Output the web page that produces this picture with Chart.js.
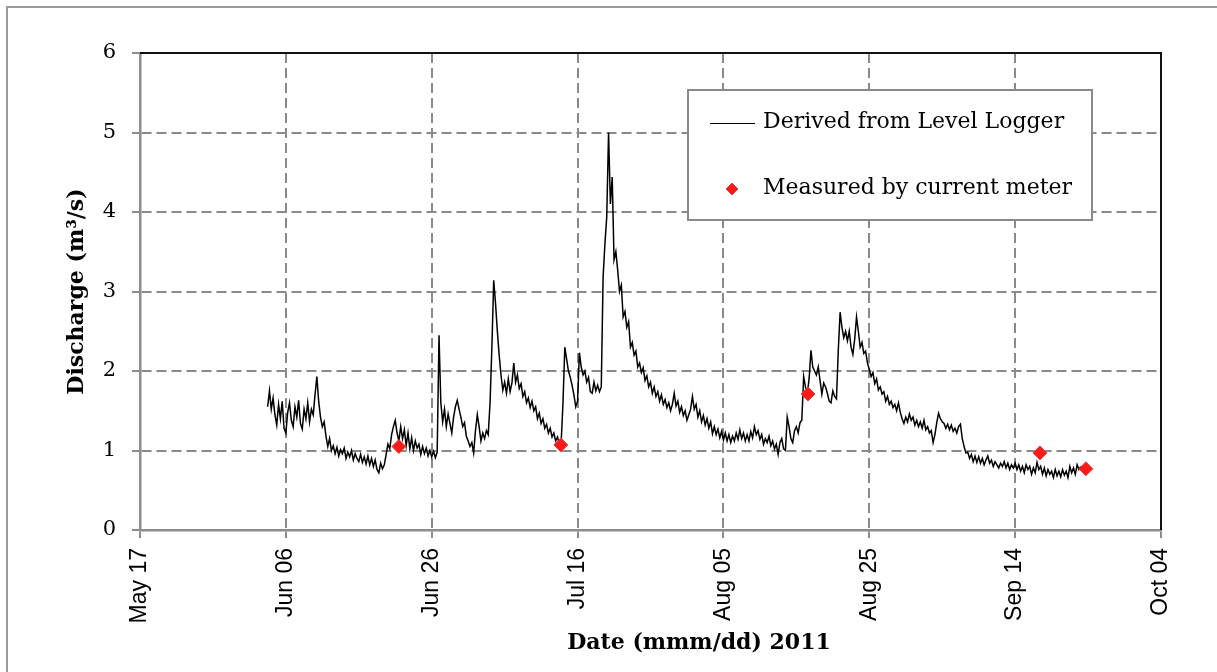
<!DOCTYPE html>
<html>
<head>
<meta charset="utf-8">
<script src="https://cdn.jsdelivr.net/npm/chart.js@4.4.0/dist/chart.umd.min.js"></script>
<style>
html,body{margin:0;padding:0;background:#fff;overflow:hidden;}
#wrap{position:relative;width:1217px;height:672px;overflow:hidden;}
#frame{position:absolute;left:6px;top:6px;width:1400px;height:900px;border-left:2px solid #9b9b9b;border-top:2px solid #9b9b9b;}
canvas{position:absolute;left:0;top:0;}
</style>
</head>
<body>
<div id="wrap"><div id="frame"></div><canvas id="c" width="1217" height="672"></canvas></div>
<script>
// ---- data (x = days after May 17, 2011) ----
const xTickDays   = [0, 20, 40, 60, 80, 100, 120, 140];
const xTickLabels = ["May 17", "Jun 06", "Jun 26", "Jul 16", "Aug 05", "Aug 25", "Sep 14", "Oct 04"];
const yTicks      = [0, 1, 2, 3, 4, 5, 6];

const xAxisTitle = "Date (mmm/dd) 2011";
const yAxisTitle = "Discharge (m\u00B3/s)";
const loggerLabel = "Derived from Level Logger";
const meterLabel  = "Measured by current meter";

// level-logger series, sampled every quarter day starting at day 17.5
const loggerStartDay = 17.5;
const loggerStepDay  = 0.25;
const loggerQ = [
  1.55, 1.75,
  1.52, 1.66, 1.45, 1.32,  1.58, 1.40, 1.62, 1.28,  1.22, 1.48, 1.60, 1.38,  1.30, 1.55, 1.42, 1.63,
  1.34, 1.27, 1.52, 1.40,  1.60, 1.36, 1.52, 1.45,  1.70, 1.93, 1.62, 1.42,  1.30, 1.36, 1.18, 1.05,
  1.15, 1.00, 1.06, 0.96,  1.04, 0.93, 1.01, 0.96,  1.03, 0.90, 0.98, 0.92,  1.00, 0.88, 0.96, 0.90,
  0.86, 0.95, 0.85, 0.92,  0.83, 0.93, 0.82, 0.90,  0.80, 0.88, 0.76, 0.72,  0.84, 0.77, 0.82, 0.95,
  1.08, 1.02, 1.20, 1.30,  1.38, 1.22, 1.12, 1.30,  1.15, 1.26, 1.06, 1.22,  1.02, 1.16, 1.00, 1.12,
  1.03, 1.08, 0.95, 1.05,  0.96, 1.03, 0.93, 1.00,  0.92, 0.99, 0.91, 0.98,  2.45, 1.60, 1.36, 1.52,
  1.30, 1.46, 1.34, 1.22,  1.42, 1.55, 1.63, 1.52,  1.42, 1.30, 1.35, 1.18,  1.12, 1.05, 1.10, 0.97,
  1.25, 1.45, 1.30, 1.12,  1.22, 1.15, 1.25, 1.20,  1.60, 2.30, 3.14, 2.85,  2.50, 2.20, 1.95, 1.76,
  1.86, 1.72, 1.90, 1.74,  1.85, 2.10, 1.86, 1.95,  1.78, 1.84, 1.68, 1.74,  1.60, 1.66, 1.54, 1.62,
  1.50, 1.55, 1.40, 1.47,  1.34, 1.40, 1.28, 1.33,  1.22, 1.28, 1.17, 1.22,  1.12, 1.17, 1.08, 1.10,
  1.60, 2.30, 2.15, 2.00,  1.92, 1.82, 1.70, 1.55,  1.62, 2.23, 2.05, 1.95,  2.00, 1.86, 1.92, 1.74,
  1.72, 1.86, 1.75, 1.82,  1.74, 1.80, 3.18, 3.60,  3.94, 5.00, 4.10, 4.44,  3.40, 3.50, 3.27, 3.00,
  3.08, 2.68, 2.75, 2.55,  2.62, 2.30, 2.36, 2.20,  2.25, 2.05, 2.10, 1.98,  2.04, 1.88, 1.94, 1.80,
  1.86, 1.72, 1.80, 1.68,  1.74, 1.62, 1.70, 1.58,  1.64, 1.54, 1.60, 1.50,  1.58, 1.72, 1.56, 1.62,
  1.48, 1.55, 1.44, 1.50,  1.38, 1.45, 1.52, 1.68,  1.52, 1.58, 1.42, 1.50,  1.36, 1.44, 1.32, 1.40,
  1.28, 1.36, 1.21, 1.30,  1.20, 1.27, 1.16, 1.24,  1.13, 1.22, 1.12, 1.20,  1.10, 1.18, 1.12, 1.22,
  1.14, 1.26, 1.15, 1.22,  1.12, 1.20, 1.12, 1.24,  1.16, 1.30, 1.20, 1.25,  1.14, 1.20, 1.08, 1.15,
  1.10, 1.18, 1.06, 1.12,  1.02, 1.08, 0.95, 1.10,  1.15, 1.02, 1.00, 1.42,  1.30, 1.15, 1.10, 1.25,
  1.30, 1.22, 1.35, 1.38,  1.93, 1.80, 1.72, 1.90,  2.26, 2.05, 2.00, 1.95,  2.05, 1.88, 1.71, 1.85,
  1.80, 1.72, 1.62, 1.60,  1.75, 1.68, 1.65, 2.26,  2.74, 2.55, 2.42, 2.50,  2.38, 2.50, 2.30, 2.21,
  2.40, 2.68, 2.50, 2.30,  2.36, 2.22, 2.25, 2.10,  2.02, 1.93, 1.98, 1.84,  1.90, 1.76, 1.80, 1.71,
  1.74, 1.62, 1.68, 1.58,  1.62, 1.54, 1.58, 1.50,  1.60, 1.48, 1.40, 1.34,  1.42, 1.36, 1.46, 1.38,
  1.42, 1.32, 1.38, 1.30,  1.36, 1.28, 1.38, 1.26,  1.30, 1.22, 1.25, 1.10,  1.20, 1.35, 1.47, 1.40,
  1.36, 1.34, 1.28, 1.33,  1.26, 1.32, 1.24, 1.28,  1.22, 1.30, 1.33, 1.15,  1.05, 0.97, 0.98, 0.90,
  0.95, 0.86, 0.93, 0.85,  0.92, 0.84, 0.90, 0.82,  0.88, 0.93, 0.84, 0.88,  0.80, 0.86, 0.82, 0.78,
  0.84, 0.80, 0.86, 0.78,  0.84, 0.76, 0.82, 0.78,  0.84, 0.76, 0.82, 0.74,  0.80, 0.72, 0.82, 0.76,
  0.80, 0.70, 0.78, 0.72,  0.85, 0.76, 0.80, 0.70,  0.78, 0.68, 0.76, 0.70,  0.74, 0.66, 0.76, 0.68,
  0.74, 0.67, 0.76, 0.69,  0.74, 0.66, 0.80, 0.72,  0.78, 0.70, 0.82, 0.76,
  0.80
];

// current-meter measurements
const meterDays = [35.5, 57.7, 91.6, 123.4, 129.7];
const meterQ    = [1.05, 1.07, 1.71, 0.97, 0.77];

// ---- build datasets from the arrays ----
const loggerPoints = loggerQ.map((q, i) => ({ x: loggerStartDay + i * loggerStepDay, y: q }));
const meterPoints  = meterDays.map((d, i) => ({ x: d, y: meterQ[i] }));

const GRID = '#8a8a8a';
const AXIS = '#8c8c8c';

const extras = {
  id: 'extras',
  beforeDatasetsDraw(chart) {
    const { ctx, chartArea: a } = chart;
    ctx.save();
    ctx.strokeStyle = '#111';
    ctx.lineWidth = 2;
    ctx.beginPath();
    ctx.moveTo(a.left, a.top);
    ctx.lineTo(a.right, a.top);
    ctx.lineTo(a.right, a.bottom);
    ctx.stroke();
    ctx.restore();
  },
  afterDraw(chart) {
    const { ctx } = chart;
    const ds = chart.data.datasets;
    ctx.save();
    // x-axis title
    ctx.font = 'bold 22px "DejaVu Serif"';
    ctx.fillStyle = '#000';
    ctx.textAlign = 'center';
    ctx.textBaseline = 'middle';
    ctx.fillText(xAxisTitle, 699, 643);

    // legend box
    const L = 688, T = 90, W = 404, H = 130;
    ctx.fillStyle = '#fff';
    ctx.fillRect(L, T, W, H);
    ctx.strokeStyle = '#8a8a8a';
    ctx.lineWidth = 2;
    ctx.strokeRect(L, T, W, H);

    ctx.font = '22px "DejaVu Serif"';
    ctx.textAlign = 'left';
    ctx.fillStyle = '#000';
    const logger = ds.find(d => d.label === loggerLabel);
    const meter = ds.find(d => d.label === meterLabel);
    // entry 1: line
    ctx.strokeStyle = logger.borderColor;
    ctx.lineWidth = 1;
    ctx.beginPath();
    ctx.moveTo(710, 123.5);
    ctx.lineTo(755, 123.5);
    ctx.stroke();
    ctx.fillText(logger.label, 763, 122);
    // entry 2: diamond
    ctx.fillStyle = meter.backgroundColor;
    ctx.strokeStyle = meter.borderColor;
    Chart.helpers.drawPoint(ctx, { pointStyle: 'rectRot', radius: 6, borderWidth: 1 }, 732, 189);
    ctx.fillStyle = '#000';
    ctx.fillText(meter.label, 763, 188);
    ctx.restore();
  }
};

new Chart(document.getElementById('c'), {
  type: 'line',
  data: {
    datasets: [
      {
        label: meterLabel,
        data: meterPoints,
        showLine: false,
        pointStyle: 'rectRot',
        pointRadius: 7,
        pointBackgroundColor: '#ff1a1a',
        pointBorderColor: '#d64545',
        pointBorderWidth: 1,
        backgroundColor: '#ff1a1a',
        borderColor: '#d64545',
        order: 0
      },
      {
        label: loggerLabel,
        data: loggerPoints,
        borderColor: '#000',
        borderWidth: 1.5,
        pointRadius: 0,
        tension: 0,
        fill: false,
        order: 1
      }
    ]
  },
  options: {
    responsive: false,
    animation: false,
    devicePixelRatio: 1,
    layout: { padding: { top: 53, right: 56, left: 0, bottom: 0 } },
    plugins: { legend: { display: false }, tooltip: { enabled: false } },
    scales: {
      x: {
        type: 'linear',
        min: xTickDays[0],
        max: xTickDays[xTickDays.length - 1],
        afterFit(scale) { scale.height = 142; },
        afterBuildTicks(scale) { scale.ticks = xTickDays.map(v => ({ value: v })); },
        ticks: {
          autoSkip: false,
          minRotation: 90,
          maxRotation: 90,
          padding: 10,
          color: '#000',
          font: { family: 'Liberation Sans', size: 23 },
          callback: (v) => xTickLabels[xTickDays.indexOf(v)]
        },
        grid: { color: GRID, lineWidth: 2, tickLength: 8, tickColor: AXIS, tickWidth: 2 },
        border: { color: AXIS, width: 2.5, dash: [10, 5] },
        title: { display: false }
      },
      y: {
        min: yTicks[0],
        max: yTicks[yTicks.length - 1],
        afterFit(scale) { scale.width = 140; },
        afterBuildTicks(scale) { scale.ticks = yTicks.map(v => ({ value: v })); },
        ticks: {
          padding: 16,
          color: '#000',
          font: { family: 'DejaVu Serif', size: 21 }
        },
        grid: { color: GRID, lineWidth: 2, tickLength: 8, tickColor: AXIS, tickWidth: 2 },
        border: { color: AXIS, width: 2.5, dash: [10, 5] },
        title: {
          display: true,
          text: yAxisTitle,
          color: '#000',
          font: { family: 'DejaVu Serif', size: 22, weight: 'bold' },
          padding: { top: 64, bottom: 0 }
        }
      }
    }
  },
  plugins: [extras]
});
</script>
</body>
</html>
